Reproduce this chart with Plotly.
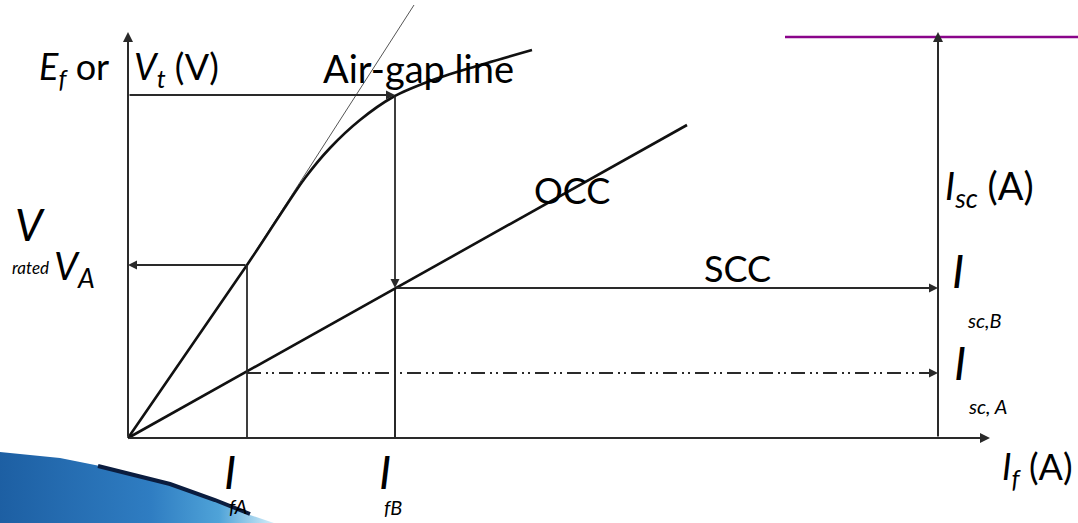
import plotly.graph_objects as go

# ---------------- data (diagram units: field current -> x, voltage / current -> y) ----------------
occ_if = [0, 119, 152, 177, 202, 232, 265, 302, 342, 404]          # OCC curve (field current)
occ_ef = [0, 173, 223, 260, 290, 318, 341, 357, 370, 388]          # OCC curve (Ef)
airgap_if = [122, 286]                                              # air-gap line
airgap_ef = [178, 433]
scc_if = [0, 559]                                                   # straight characteristic
scc_isc = [0, 313]

I_fA, I_fB = 119, 267          # field currents
V_A, V_B = 173, 343            # voltages on OCC
I_scA, I_scB = 65, 150         # short-circuit currents
x_axis_end = 862
y_axis_top = 406
isc_axis_x = 810
isc_axis_top = 406
top_line_y = 401
top_line_x = [657, 950]

swoosh_x = [-128, -68, -8, 42, 87, 122, 146, -128]
swoosh_y = [-14, -20, -32, -46, -62, -77, -85, -85]
swoosh_edge_x = [-30, 42, 87, 122]
swoosh_edge_y = [-28, -46, -62, -76]

FONT = "Lato"
INK = "#111111"
ARROW = "#2a2a2a"
MAIN = 36

fig = go.Figure()

# decorative swoosh
fig.add_trace(go.Scatter(
    x=swoosh_x, y=swoosh_y, mode="lines", fill="toself",
    line=dict(width=0, color="rgba(0,0,0,0)"),
    fillgradient=dict(type="horizontal",
                      colorscale=[[0, "#1d5fa3"], [0.55, "#2f7dc2"], [0.8, "#4fa3d8"], [1, "#d4eef9"]]),
    hoverinfo="skip"))
fig.add_trace(go.Scatter(x=swoosh_edge_x, y=swoosh_edge_y, mode="lines",
                         line=dict(color="#0b1d3f", width=4), hoverinfo="skip"))

# air-gap line (thin)
fig.add_trace(go.Scatter(x=airgap_if, y=airgap_ef, mode="lines",
                         line=dict(color="#555555", width=1), hoverinfo="skip"))
# OCC curve
fig.add_trace(go.Scatter(x=occ_if, y=occ_ef, mode="lines",
                         line=dict(color=INK, width=2.6, shape="spline", smoothing=0.8), hoverinfo="skip"))
# straight characteristic
fig.add_trace(go.Scatter(x=scc_if, y=scc_isc, mode="lines",
                         line=dict(color=INK, width=2.6), hoverinfo="skip"))

# vertical drop lines to the axis
fig.add_trace(go.Scatter(x=[I_fA, I_fA], y=[0, V_A], mode="lines",
                         line=dict(color=ARROW, width=1.8), hoverinfo="skip"))
fig.add_trace(go.Scatter(x=[I_fB, I_fB], y=[0, I_scB], mode="lines",
                         line=dict(color=INK, width=1.8), hoverinfo="skip"))

# dash-dot line at I_sc,A
fig.add_trace(go.Scatter(x=[I_fA, isc_axis_x - 8], y=[I_scA, I_scA], mode="lines",
                         line=dict(color=ARROW, width=2, dash="14px,5px,2px,4px,2px,5px"),
                         hoverinfo="skip"))

# purple line at top right
fig.add_trace(go.Scatter(x=top_line_x, y=[top_line_y, top_line_y], mode="lines",
                         line=dict(color="#8a048a", width=2.5), hoverinfo="skip"))

annotations = []


def arrow(x0, y0, x1, y1, width=1.8, color=ARROW, size=1.0):
    annotations.append(dict(x=x1, y=y1, ax=x0, ay=y0, xref="x", yref="y", axref="x", ayref="y",
                            text="", showarrow=True, arrowhead=2, arrowsize=size,
                            arrowwidth=width, arrowcolor=color, standoff=0, startstandoff=0))


# axes
arrow(0, 0, 0, y_axis_top, width=2)
arrow(0, 0, x_axis_end, 0, width=2)
arrow(isc_axis_x, 0, isc_axis_x, isc_axis_top, width=2)
# construction arrows
arrow(0, V_B, I_fB, V_B)
arrow(I_fB, V_B, I_fB, I_scB)
arrow(I_fB, I_scB, isc_axis_x, I_scB)
arrow(I_fA, V_A, 0, V_A)
arrow(isc_axis_x - 14, I_scA, isc_axis_x, I_scA)


def label(x, y, text, size=MAIN, xanchor="center", yanchor="middle"):
    annotations.append(dict(x=x, y=y, xref="x", yref="y", text=text, showarrow=False,
                            xanchor=xanchor, yanchor=yanchor,
                            font=dict(family=FONT, size=size, color="#000000")))


label(-91, 370, "<i>E<sub>f</sub></i> or", xanchor="left")
label(4, 370, "<i>V<sub>t</sub></i> (V)", xanchor="left")
label(193, 370, "Air-gap line", size=38, xanchor="left")
label(444, 248, "OCC")
label(815, 250, "<i>I<sub>sc</sub></i> (A)", size=38, xanchor="left")
label(-98, 214, "<i>V</i>", size=44)
label(-98, 171, "<i>rated</i>", size=17)
label(-76, 170, "<i>V<sub>A</sub></i>", size=38, xanchor="left")
label(609, 170, "SCC")
label(830, 168, "<i>I</i>", size=46)
label(837, 118, "<i>sc,B</i>", size=20, xanchor="left")
label(832, 76, "<i>I</i>", size=46)
label(838, 32, "<i>sc, A</i>", size=20, xanchor="left")
label(872, -30, "<i>I<sub>f</sub></i> (A)", xanchor="left")
label(102, -33, "<i>I</i>", size=46)
label(110, -68, "<i>fA</i>", size=20)
label(257, -33, "<i>I</i>", size=46)
label(265, -69, "<i>fB</i>", size=20)

fig.update_layout(
    width=1078, height=523,
    margin=dict(l=0, r=0, t=0, b=0),
    paper_bgcolor="white", plot_bgcolor="white",
    showlegend=False,
    xaxis=dict(range=[-128, 950], visible=False, fixedrange=True),
    yaxis=dict(range=[-85, 438], visible=False, fixedrange=True),
    annotations=annotations,
)

fig.write_html("out.html", config={"displayModeBar": False},
               post_script="document.body.style.margin='0';document.body.style.overflow='hidden';")
